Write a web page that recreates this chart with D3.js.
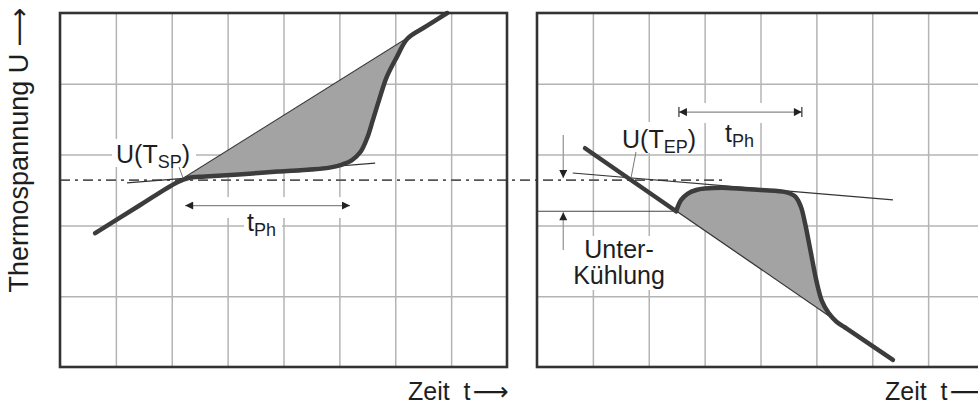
<!DOCTYPE html>
<html>
<head>
<meta charset="utf-8">
<script src="https://cdn.jsdelivr.net/npm/d3@7"></script>
<style>
body{margin:0;background:#fff;}
text{font-family:"Liberation Sans",Arial,sans-serif;fill:#1e1e1e;}
.arr{font-family:"DejaVu Sans",sans-serif;}
</style>
</head>
<body>
<svg id="chart" width="978" height="405"></svg>
<script>
// grid: 8 columns x 5 rows in each panel (values in grid units)
var gridCols = [1,2,3,4,5,6,7];
var gridRows = [1,2,3,4];

// left panel - heating curve with melting plateau
var leftLine = [[0.63,1.89],[6.93,5.00]];           // straight reference line
var leftCurve = [[0.63,1.89],[1.40,2.27],[2.10,2.61],[2.30,2.67],[2.60,2.69],[3.20,2.72],
                 [3.90,2.76],[4.50,2.79],[4.85,2.82],[5.05,2.86],[5.22,2.92],[5.38,3.04],
                 [5.50,3.24],[5.60,3.49],[5.71,3.77],[5.85,4.10],[6.03,4.38],[6.22,4.64],
                 [6.55,4.81],[6.93,5.00]];
var leftTangent = [[1.20,2.60],[5.64,2.88]];
var leftTph = [2.24,5.19,2.28];                     // from, to, level

// right panel - cooling curve with undercooling
var rightLine = [[0.86,3.09],[6.37,0.10]];
var rightBump = [[2.49,2.20],[2.58,2.36],[2.70,2.45],[2.85,2.50],[3.00,2.52],[3.40,2.53],
                 [4.00,2.50],[4.45,2.47],[4.62,2.41],[4.72,2.27],[4.80,2.02],[4.90,1.62],
                 [5.00,1.22],[5.10,0.93],[5.22,0.76],[5.36,0.64],[5.51,0.56]];
var rightTangent = [[0.64,2.74],[6.37,2.36]];
var rightTph = [2.54,4.74,3.60];
var underLevel = 2.20;
var tempLevel = 2.64;  // U(T) dash-dot level

var svg = d3.select("#chart");
var yTop = 13, yBot = 367;
var y = d3.scaleLinear().domain([0,5]).range([yBot, yTop]);
var xL = d3.scaleLinear().domain([0,8]).range([60,507]);
var xR = d3.scaleLinear().domain([0,8]).range([537,984]);

var defs = svg.append("defs");
defs.append("marker").attr("id","ah").attr("viewBox","0 0 10 10").attr("refX",10).attr("refY",5)
  .attr("markerWidth",9).attr("markerHeight",8).attr("markerUnits","userSpaceOnUse").attr("orient","auto-start-reverse")
  .append("path").attr("d","M0,0L10,5L0,10Z").attr("fill","#222");

function drawGrid(x){
  var g = svg.append("g");
  g.append("g").attr("transform","translate(0,"+yBot+")")
    .call(d3.axisBottom(x).tickValues(gridCols).tickSize(-(yBot-yTop)).tickFormat(""))
    .call(function(a){ a.select(".domain").remove(); a.selectAll("line").attr("stroke","#b4b4b4").attr("stroke-width",1.5); });
  g.append("g").attr("transform","translate("+x.range()[0]+",0)")
    .call(d3.axisLeft(y).tickValues(gridRows).tickSize(-(x.range()[1]-x.range()[0])).tickFormat(""))
    .call(function(a){ a.select(".domain").remove(); a.selectAll("line").attr("stroke","#b4b4b4").attr("stroke-width",1.5); });
}
drawGrid(xL);
drawGrid(xR);

// white backgrounds behind labels and arrows (interrupt grid)
var blanks = [[112,139,84,28],[183,197,172,21],[244,212,38,28],
              [618,122,84,31],[673,103,140,20],[720,124,40,25],[568,236,102,54]];
svg.selectAll(".blank").data(blanks).enter().append("rect")
  .attr("x",function(d){return d[0];}).attr("y",function(d){return d[1];})
  .attr("width",function(d){return d[2];}).attr("height",function(d){return d[3];})
  .attr("fill","#fff");

function lineOf(x, curve){
  return d3.line().x(function(d){return x(d[0]);}).y(function(d){return y(d[1]);}).curve(curve || d3.curveLinear);
}
var cr = d3.curveCatmullRom.alpha(0.5);

// dash-dot level line across both panels
svg.append("line").attr("x1",xL(0)).attr("x2",xR(3.33)).attr("y1",y(tempLevel)).attr("y2",y(tempLevel))
  .attr("stroke","#555").attr("stroke-width",1.6).attr("stroke-dasharray","10,5,3,5");

// ---- left panel
svg.append("path").attr("d", lineOf(xL, cr)(leftCurve.slice(2,18)) + "Z").attr("fill","#a3a3a3");
svg.append("path").attr("d", lineOf(xL)(leftLine)).attr("stroke","#333").attr("stroke-width",1.2).attr("fill","none");
svg.append("path").attr("d", lineOf(xL)(leftTangent)).attr("stroke","#333").attr("stroke-width",1.1).attr("fill","none");
svg.append("path").attr("d", lineOf(xL, cr)(leftCurve)).attr("stroke","#3c3c3c").attr("stroke-width",4.5)
  .attr("fill","none").attr("stroke-linecap","round");

// ---- right panel
svg.append("path").attr("d", lineOf(xR, cr)(rightBump) + "Z").attr("fill","#a3a3a3");
svg.append("path").attr("d", lineOf(xR)(rightLine)).attr("stroke","#333").attr("stroke-width",1.2).attr("fill","none");
svg.append("path").attr("d", lineOf(xR)(rightTangent)).attr("stroke","#333").attr("stroke-width",1.1).attr("fill","none");
svg.append("path").attr("d", lineOf(xR)([rightLine[0], rightBump[0]])).attr("stroke","#3c3c3c").attr("stroke-width",4.5).attr("stroke-linecap","round");
svg.append("path").attr("d", lineOf(xR, cr)(rightBump)).attr("stroke","#3c3c3c").attr("stroke-width",4.5).attr("fill","none").attr("stroke-linecap","round");
svg.append("path").attr("d", lineOf(xR)([rightBump[rightBump.length-1], rightLine[1]])).attr("stroke","#3c3c3c").attr("stroke-width",4.5).attr("stroke-linecap","round");

// undercooling marks
svg.append("line").attr("x1",xR(0)).attr("x2",xR(rightBump[0][0])).attr("y1",y(underLevel)).attr("y2",y(underLevel))
  .attr("stroke","#444").attr("stroke-width",1.2);
svg.append("line").attr("x1",xR(0.47)).attr("x2",xR(0.47)).attr("y1",135).attr("y2",y(tempLevel)-2)
  .attr("stroke","#999").attr("stroke-width",1.3).attr("marker-end","url(#ah)");
svg.append("line").attr("x1",xR(0.47)).attr("x2",xR(0.47)).attr("y1",250).attr("y2",y(underLevel)+1)
  .attr("stroke","#999").attr("stroke-width",1.3).attr("marker-end","url(#ah)");

// t_Ph arrows
function tphArrow(x, a){
  svg.append("line").attr("x1",x(a[0])).attr("x2",x(a[1])).attr("y1",y(a[2])).attr("y2",y(a[2]))
    .attr("stroke","#888").attr("stroke-width",1.3)
    .attr("marker-start","url(#ah)").attr("marker-end","url(#ah)");
}
tphArrow(xL, leftTph);
tphArrow(xR, rightTph);
[xR(rightTph[0]), xR(rightTph[1])].forEach(function(px){
  svg.append("line").attr("x1",px).attr("x2",px).attr("y1",y(rightTph[2])-5).attr("y2",y(rightTph[2])+5)
    .attr("stroke","#333").attr("stroke-width",1.2);
});

// leaders
svg.append("line").attr("x1",179).attr("y1",167).attr("x2",183).attr("y2",178).attr("stroke","#777").attr("stroke-width",1);
svg.append("line").attr("x1",636).attr("y1",152).attr("x2",631).attr("y2",178).attr("stroke","#777").attr("stroke-width",1);

// panel frames
[xL, xR].forEach(function(x){
  svg.append("rect").attr("x",x.range()[0]).attr("y",yTop).attr("width",x.range()[1]-x.range()[0]).attr("height",yBot-yTop)
    .attr("fill","none").attr("stroke","#333").attr("stroke-width",2.6);
});

// labels
var fs = 25;
function subLabel(px, py, main, sub, tail){
  var t = svg.append("text").attr("x",px).attr("y",py).attr("font-size",fs);
  t.append("tspan").text(main);
  t.append("tspan").attr("font-size",fs*0.72).attr("dy",5).text(sub);
  if (tail) t.append("tspan").attr("dy",-5).text(tail);
}
subLabel(116, 163, "U(T", "SP", ")");
subLabel(247, 231, "t", "Ph");
subLabel(622, 148, "U(T", "EP", ")");
subLabel(725, 142, "t", "Ph");

svg.append("text").attr("x",619).attr("y",258).attr("text-anchor","middle").attr("font-size",fs).text("Unter-");
svg.append("text").attr("x",619).attr("y",284).attr("text-anchor","middle").attr("font-size",fs).text("Kühlung");

[xL, xR].forEach(function(x){
  var t = svg.append("text").attr("x",x.range()[0]+348).attr("y",400).attr("font-size",fs).style("white-space","pre");
  t.append("tspan").text("Zeit  t");
  t.append("tspan").attr("class","arr").attr("dx",2).text("\u27F6");
});
var yl = svg.append("text").attr("transform","translate(28,150) rotate(-90)").attr("text-anchor","middle")
  .attr("font-size",27).style("white-space","pre");
yl.append("tspan").text("Thermospannung U ");
yl.append("tspan").attr("class","arr").text("\u27F6");
</script>
</body>
</html>
